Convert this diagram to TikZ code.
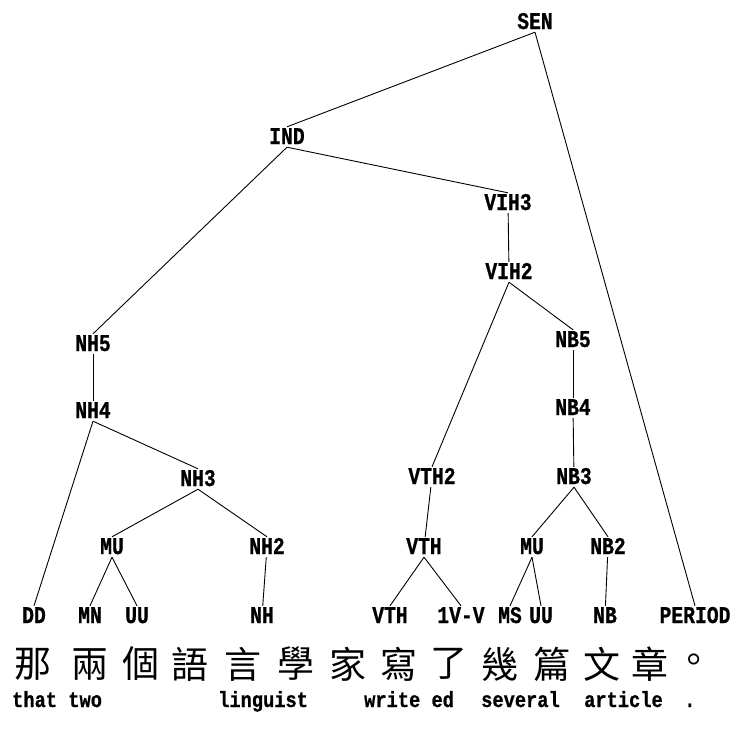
\documentclass[tikz,border=0pt]{standalone}
\usepackage{fontspec}
\newfontfamily\treefont{Liberation Mono}[FakeStretch=0.82,FakeBold=0.8]
\newfontfamily\glossfont{Liberation Mono}[FakeStretch=0.85,FakeBold=0.8]
\newfontfamily\cjk{Noto Sans CJK TC}
\begin{document}
\begin{tikzpicture}[x=1pt,y=-1pt,
  cat/.style={font={\treefont\fontsize{24}{26}\selectfont\bfseries},inner sep=3pt,text height=14pt,text depth=0pt},
  gloss/.style={font={\glossfont\fontsize{22}{24}\selectfont\bfseries},inner sep=0pt},
  hanzi/.style={font={\cjk\fontsize{37}{40}\selectfont},inner sep=0pt},
  branch/.style={line width=0.9pt}]
\useasboundingbox (0,0) rectangle (743,729);

% upper part
\node[cat] (SEN) at (535,22) {SEN};
\node[cat] (IND) at (287,137) {IND};
\node[cat] (VIH3) at (508,203) {VIH3};
\node[cat] (VIH2) at (509,272) {VIH2};

% noun phrase
\node[cat] (NH5) at (93,344) {NH5};
\node[cat] (NH4) at (93,411) {NH4};
\node[cat] (NH3) at (198,479) {NH3};
\node[cat] (MUa) at (112,547) {MU};
\node[cat] (NH2) at (267,547) {NH2};

% verb and object
\node[cat] (VTH2) at (432,477) {VTH2};
\node[cat] (VTHa) at (424,547) {VTH};
\node[cat] (NB5) at (573,340) {NB5};
\node[cat] (NB4) at (573,408) {NB4};
\node[cat] (NB3) at (574,477) {NB3};
\node[cat] (MUb) at (532,547) {MU};
\node[cat] (NB2) at (608,547) {NB2};

% leaves
\node[cat] (DD) at (34,616) {DD};
\node[cat] (MN) at (90,616) {MN};
\node[cat] (UUa) at (137,616) {UU};
\node[cat] (NH) at (262,616) {NH};
\node[cat] (VTHb) at (390,616) {VTH};
\node[cat] (IVV) at (461,616) {1V-V};
\node[cat] (MS) at (510,616) {MS};
\node[cat] (UUb) at (541,616) {UU};
\node[cat] (NB) at (605,616) {NB};
\node[cat] (PERIOD) at (695,616) {PERIOD};

\draw[branch] (SEN.south) -- (IND.north);
\draw[branch] (SEN.south) -- (PERIOD.north);
\draw[branch] (IND.south) -- (NH5.north);
\draw[branch] (IND.south) -- (VIH3.north);
\draw[branch] (VIH3) -- (VIH2);
\draw[branch] (NH5) -- (NH4);
\draw[branch] (NH4.south) -- (DD.north);
\draw[branch] (NH4.south) -- (NH3.north);
\draw[branch] (NH3.south) -- (MUa.north);
\draw[branch] (NH3.south) -- (NH2.north);
\draw[branch] (MUa.south) -- (MN.north);
\draw[branch] (MUa.south) -- (UUa.north);
\draw[branch] (NH2) -- (NH);
\draw[branch] (VIH2.south) -- (VTH2.north);
\draw[branch] (VIH2.south) -- (NB5.north);
\draw[branch] (VTH2) -- (VTHa);
\draw[branch] (VTHa.south) -- (VTHb.north);
\draw[branch] (VTHa.south) -- (IVV.north);
\draw[branch] (NB5) -- (NB4);
\draw[branch] (NB4) -- (NB3);
\draw[branch] (NB3.south) -- (MUb.north);
\draw[branch] (NB3.south) -- (NB2.north);
\draw[branch] (MUb.south) -- (MS.north);
\draw[branch] (MUb.south) -- (UUb.north);
\draw[branch] (NB2) -- (NB);

% sentence and gloss
\foreach \x/\c [count=\i] in {33/那,90/兩,141/個,190/語,243/言,296/學,348/家,399/寫,449/了,500/幾,552/篇,602/文,650/章,694/。}
  \node[hanzi] (z\i) at (\x,664) {\c};

\node[gloss,anchor=base west] (g1) at (12,707) {that two};
\node[gloss,anchor=base west] (g2) at (218,707) {linguist};
\node[gloss,anchor=base west] (g3) at (364,707) {write ed};
\node[gloss,anchor=base west] (g4) at (481,707) {several};
\node[gloss,anchor=base west] (g5) at (584,707) {article};
\node[gloss,anchor=base west] (g6) at (684,707) {.};
\end{tikzpicture}
\end{document}
